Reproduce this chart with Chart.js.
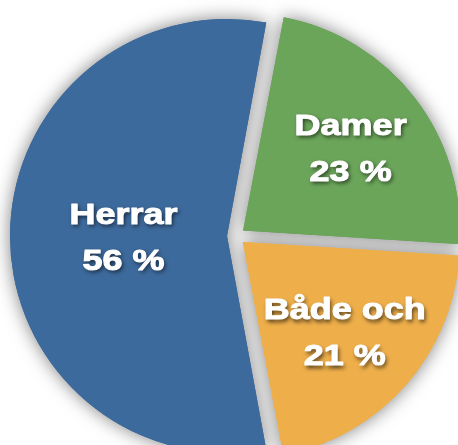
<!DOCTYPE html>
<html><head><meta charset="utf-8">
<script src="https://cdn.jsdelivr.net/npm/chart.js@4.4.1/dist/chart.umd.min.js"></script>
<style>html,body{margin:0;padding:0;background:#fff;overflow:hidden}</style>
</head><body>
<canvas id="c" width="458" height="445"></canvas>
<script>
const categories = ['Herrar', 'Damer', 'Både och'];
const shares = [56, 23, 21];
const sliceColors = ['#3d6a9c', '#6ba55a', '#eeaf4b'];

const PIE_RADIUS = 217;
const EXPLODE = 36;              // Chart.js translates arcs by offset/4 px
const labelRadial = [0.477, 0.627, 0.627];

const pieDecor = {
  id: 'pieDecor',
  beforeDatasetsDraw(chart) {
    const meta = chart.getDatasetMeta(0);
    const base = meta.controller.outerRadius;
    meta.data.forEach(arc => {
      const off = (arc.options.offset || 0) / 4;
      const fix = 1 - Math.sin(Math.min(Math.PI, arc.circumference));
      arc.outerRadius = base - off * fix;
    });
    const ctx = chart.ctx;
    ctx.save();
    ctx.shadowColor = 'rgba(0,0,0,0.5)';
    ctx.shadowBlur = 18;
    meta.data.forEach(arc => arc.draw(ctx));
    ctx.restore();
  },
  afterDatasetsDraw(chart) {
    const meta = chart.getDatasetMeta(0);
    const R = meta.controller.outerRadius;
    const ctx = chart.ctx;
    meta.data.forEach((arc, i) => {
      const mid = (arc.startAngle + arc.endAngle) / 2;
      const off = (arc.options.offset || 0) / 4;
      const r = off + labelRadial[i] * R;
      const cx = arc.x + Math.cos(mid) * r;
      const cy = arc.y + Math.sin(mid) * r;
      const lines = [categories[i], shares[i] + ' %'];
      lines.forEach((t, j) => {
        const by = cy + (j - 0.5) * 46 + 10.5;
        ctx.save();
        ctx.font = 'bold 29.5px "Liberation Sans", Arial, sans-serif';
        ctx.textAlign = 'center';
        ctx.textBaseline = 'alphabetic';
        ctx.fillStyle = '#ffffff';
        ctx.strokeStyle = '#ffffff';
        ctx.lineWidth = 1;
        ctx.lineJoin = 'round';
        ctx.shadowColor = 'rgba(0,0,0,0.7)';
        ctx.shadowBlur = 4;
        ctx.shadowOffsetX = 1.5;
        ctx.shadowOffsetY = 2.5;
        ctx.translate(cx, by);
        ctx.scale(1.22, 1);
        ctx.fillText(t, 0, 0);
        ctx.shadowColor = 'rgba(0,0,0,0)';
        ctx.strokeText(t, 0, 0);
        ctx.restore();
      });
    });
  }
};

new Chart(document.getElementById('c'), {
  type: 'pie',
  data: {
    labels: categories,
    datasets: [{
      data: shares,
      backgroundColor: sliceColors,
      borderWidth: 0,
      offset: EXPLODE,
      hoverOffset: EXPLODE,
      clip: false
    }]
  },
  options: {
    responsive: false,
    devicePixelRatio: 1,
    animation: false,
    events: [],
    rotation: 169.2,
    radius: PIE_RADIUS,
    layout: { padding: { left: 14, top: 27, right: 0, bottom: 0 } },
    plugins: { legend: { display: false }, tooltip: { enabled: false } }
  },
  plugins: [pieDecor]
});
</script>
</body></html>
